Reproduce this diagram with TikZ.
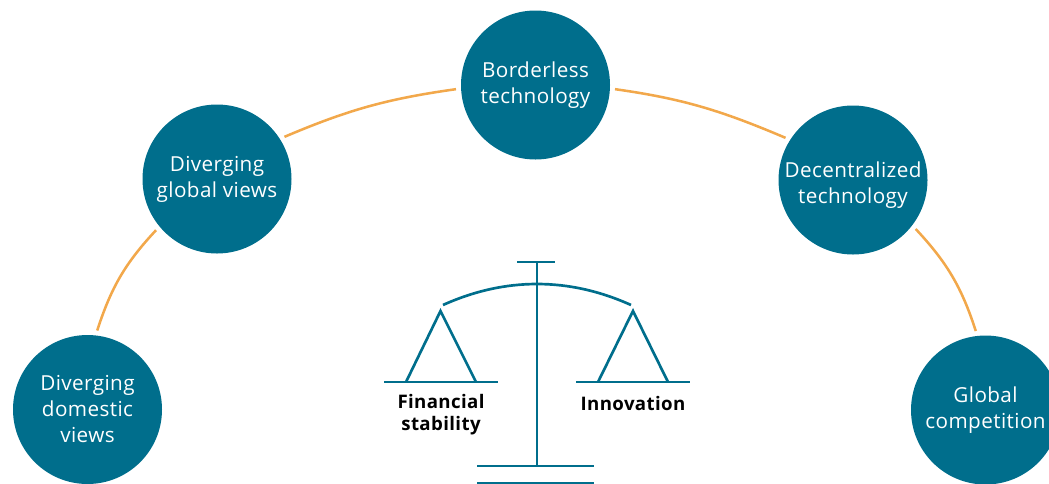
\documentclass[tikz,border=0pt]{standalone}
\usepackage{fontspec}
\setmainfont[LetterSpace=2]{Open Sans}
\usepackage{xcolor}
\definecolor{topicblue}{HTML}{006E8C}
\definecolor{linkorange}{HTML}{F2A84B}

\begin{document}
\begin{tikzpicture}
    [
      x = 0.75pt, y = -0.75pt,
      topic/.style = {circle, fill = topicblue, text = white, minimum size = 111.75pt,
        inner sep = 0pt, outer sep = 3.8pt, align = center, font = \fontsize{15.5}{19.5}\selectfont},
      link/.style = {draw = linkorange, line width = 1.9pt},
      scalepart/.style = {draw = topicblue, line width = 2pt},
      scalelabel/.style = {align = center, font = \fontsize{14}{16.2}\selectfont\bfseries}
    ]
    \useasboundingbox (0,0) rectangle (1049,483);
    \clip (0,0) rectangle (1049,483);
    \node [topic] (borderless) at (535.5,85) {Borderless\\technology};
    \node [topic] (globalviews) at (217,179) {Diverging\\global views};
    \node [topic] (decentralized) at (853,180) {\rule{0pt}{19pt}Decentralized\\technology};
    \node [topic] (domestic) at (87.5,409.5) {Diverging\\domestic\\views};
    \node [topic] (competition) at (985.5,410) {Global\\competition};
    \draw [link] (domestic.83) to [out = 72, in = 227] (globalviews.220);
    \draw [link] (globalviews.32) to [out = 23, in = 188] (borderless.183);
    \draw [link] (borderless.-3) to [out = -8, in = 157] (decentralized.148);
    \draw [link] (decentralized.-38) to [out = -47, in = 108] (competition.97);
    % the balance
    \draw [scalepart] (537,262) -- (537,466);
    \draw [scalepart] (517,262) -- (555,262);
    \draw [scalepart] (477,466) -- (594,466);
    \draw [scalepart] (477,483.5) -- (594,483.5);
    \draw [scalepart] (443,305) .. controls (505,277) and (569,277) .. (631,305);
    \draw [scalepart] (384,382) -- (498,382);
    \draw [scalepart] (406,382) -- (440.5,311) -- (476,382);
    \draw [scalepart] (576,382) -- (690,382);
    \draw [scalepart] (598,382) -- (633,311) -- (668,382);
    \node [scalelabel] (stability) at (441,414.5) {Financial\\stability};
    \node [scalelabel] (innovation) at (633,403.5) {Innovation};
  \end{tikzpicture}
\end{document}
